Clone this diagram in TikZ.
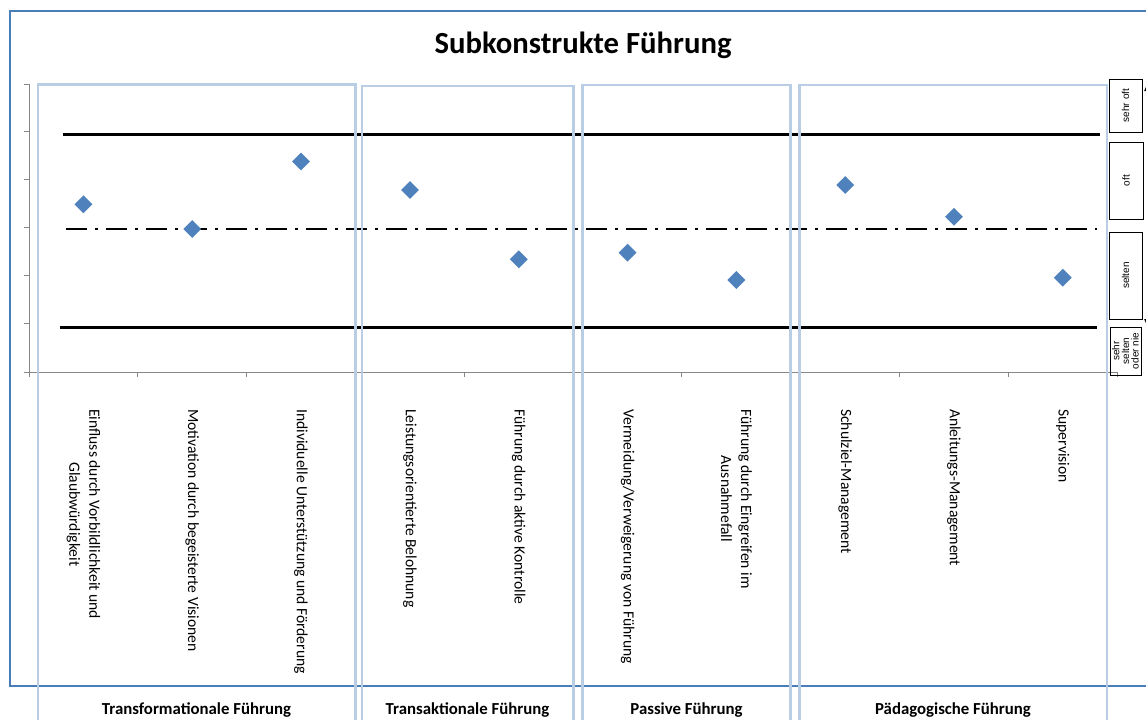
\documentclass[tikz,border=0pt]{standalone}
\usepackage{fontspec}
\setmainfont{Carlito}
\newfontfamily\arialf{Liberation Sans}
\usetikzlibrary{shapes.geometric,arrows.meta}
\definecolor{darkblue}{HTML}{4A7EBB}
\definecolor{lightblue}{HTML}{B9CDE5}
\definecolor{axisgray}{HTML}{868686}
\definecolor{markblue}{HTML}{4F81BD}
\begin{document}
\begin{tikzpicture}[x=1pt,y=-1pt,
  catlabel/.style={rotate=-90, anchor=west, align=center, inner sep=0pt, font=\fontsize{15.6}{20}\selectfont},
  grouplabel/.style={font=\bfseries\fontsize{16.8}{19}\selectfont, inner sep=0pt},
  datapt/.style={diamond, fill=markblue, draw=none, minimum width=18pt, minimum height=18pt, inner sep=0pt},
  groupbox/.style={draw=lightblue, line width=2.5pt},
  scalebox/.style={draw=black, line width=0.8pt, inner sep=0pt, rotate=90, align=center, font=\arialf\fontsize{10}{9.6}\selectfont},
  refline/.style={line width=2.7pt, black},
  axisline/.style={draw=axisgray, line width=1pt},
]
\useasboundingbox (0,0) rectangle (1146,720);
\fill[white] (0,0) rectangle (1146,720);
% outer chart border
\draw[draw=darkblue, line width=2.8pt] (10,11) rectangle (1170,686);
% title
\node[font=\bfseries\fontsize{30.7}{36}\selectfont] (title) at (583,45) {Subkonstrukte Führung};
% axes
\draw[axisline] (29,84) -- (29,372) -- (1117,372);
\foreach \yy in {84,131.5,179.5,227.5,275.5,323.5,372} \draw[axisline] (24,\yy) -- (29,\yy);
\foreach \k in {0,...,10} \draw[axisline] (29+\k*108.8,372) -- (29+\k*108.8,377);
% reference lines
\coordinate (tl) at (63,134.5); \coordinate (tr) at (1100,134.5);
\coordinate (bl) at (60,327.3); \coordinate (br) at (1097,327.3);
\coordinate (ml) at (66,229); \coordinate (mr) at (1097,229);
\draw[refline] (tl) -- (tr);
\draw[refline] (bl) -- (br);
\draw[refline, dash pattern=on 21pt off 8pt on 3pt off 8pt] (ml) -- (mr);
% data points
\node[datapt] (d1) at (83.4,204.3) {};
\node[datapt] (d2) at (192.2,229) {};
\node[datapt] (d3) at (301,161.5) {};
\node[datapt] (d4) at (410,190) {};
\node[datapt] (d5) at (518.8,259.3) {};
\node[datapt] (d6) at (627.6,252.7) {};
\node[datapt] (d7) at (736.4,280) {};
\node[datapt] (d8) at (845.2,185) {};
\node[datapt] (d9) at (954,216.7) {};
\node[datapt] (d10) at (1062.8,277.7) {};
% category labels
\node[catlabel] (c1) at (83.4,409) {Einfluss durch Vorbildlichkeit und\\Glaubwürdigkeit};
\node[catlabel] (c2) at (192.2,409) {Motivation durch begeisterte Visionen};
\node[catlabel] (c3) at (301,409) {Individuelle Unterstützung und Förderung};
\node[catlabel] (c4) at (410,409) {Leistungsorientierte Belohnung};
\node[catlabel] (c5) at (518.8,409) {Führung durch aktive Kontrolle};
\node[catlabel] (c6) at (627.6,409) {Vermeidung/Verweigerung von Führung};
\node[catlabel] (c7) at (736.4,409) {Führung durch Eingreifen im\\Ausnahmefall};
\node[catlabel] (c8) at (845.2,409) {Schulziel-Management};
\node[catlabel] (c9) at (954,409) {Anleitungs-Management};
\node[catlabel] (c10) at (1062.8,409) {Supervision};
% group boxes
\draw[groupbox] (38,84.5) rectangle (355.5,735);
\draw[groupbox] (362,86) rectangle (573.3,735);
\draw[groupbox] (582.3,85) rectangle (790.7,735);
\draw[groupbox] (799.5,85) rectangle (1107,735);
% group labels
\node[grouplabel] (g1) at (196.5,710) {Transformationale Führung};
\node[grouplabel] (g2) at (467.5,710) {Transaktionale Führung};
\node[grouplabel] (g3) at (686.5,710) {Passive Führung};
\node[grouplabel] (g4) at (953,710) {Pädagogische Führung};
% scale boxes
\node[scalebox, minimum width=53pt, minimum height=33pt] (s1) at (1125.5,105.5) {sehr oft};
\node[scalebox, minimum width=77pt, minimum height=34pt] (s2) at (1126,180.5) {oft};
\node[scalebox, minimum width=87pt, minimum height=33pt] (s3) at (1125.5,275.5) {selten};
\node[scalebox, minimum width=48pt, minimum height=31pt] (s4) at (1125.5,351) {sehr\\selten\\oder nie};
% arrow at right edge
\coordinate (at) at (1146.8,85);
\coordinate (ab) at (1146.8,325);
\draw[line width=0.8pt, {Triangle[width=5pt,length=6pt]}-{Triangle[width=5pt,length=6pt]}] (at) -- (ab);
\end{tikzpicture}
\end{document}
